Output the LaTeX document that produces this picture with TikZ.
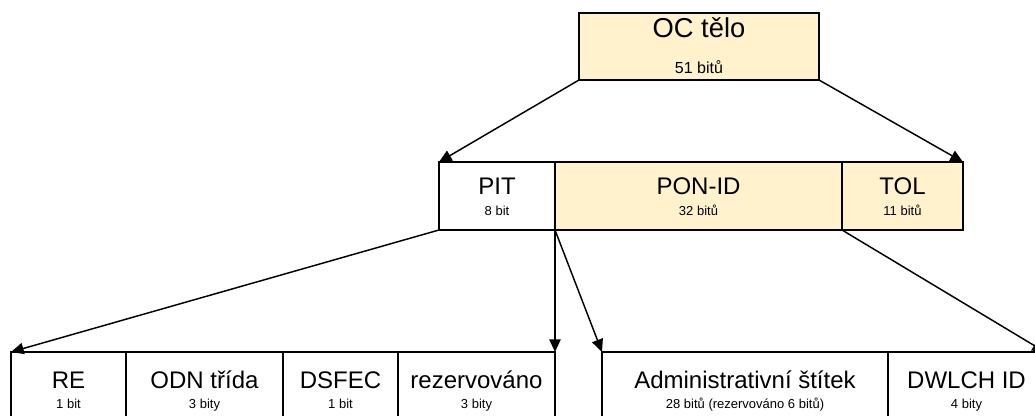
\documentclass[tikz,border=0pt]{standalone}
\usepackage{fontspec}
\setmainfont{Liberation Sans}
\usetikzlibrary{arrows.meta}
\definecolor{fieldfill}{RGB}{255,242,204}
\tikzset{
  boxst/.style={draw=black, line width=1.3pt, inner sep=0pt, outer sep=0pt, anchor=north west},
  arr/.style={draw=black, line width=1.1pt, -{Triangle[length=9.5pt,width=8.5pt]}},
  bigtxt/.style={anchor=base, inner sep=0pt, font=\fontsize{18}{20}\selectfont},
  octxt/.style={anchor=base, inner sep=0pt, font=\fontsize{20.5}{23}\selectfont},
  smalltxt/.style={anchor=base, inner sep=0pt, font=\fontsize{9.75}{11}\selectfont},
  octsub/.style={anchor=base, inner sep=0pt, font=\fontsize{12}{14}\selectfont},
}
\newcommand\mkbox[6]{%
  \node[boxst, fill=#6, minimum width={(#4-#2)*0.75pt}, minimum height={(#5-#3)*0.75pt}] (#1) at (#2,#3) {};}
\begin{document}
\begin{tikzpicture}[x=0.75pt, y=-0.75pt]
\useasboundingbox (0,0) rectangle (1035,416);
\clip (0,0) rectangle (1035,416);
% top
\mkbox{oc}{579}{13}{819}{80}{fieldfill}
\node[octxt] (octitle) at (699,37.5) {OC tělo};
\node[octsub] (ocsub) at (699,74) {51 bitů};
% middle
\mkbox{pit}{439}{162}{555}{230}{white}
\mkbox{pon}{555}{162}{842}{230}{fieldfill}
\mkbox{tol}{842}{162}{963}{230}{fieldfill}
\node[bigtxt] (pitt) at (497,195) {PIT};
\node[smalltxt] (pits) at (497,216) {8 bit};
\node[bigtxt] (pont) at (698.5,195) {PON-ID};
\node[smalltxt] (pons) at (698.5,216) {32 bitů};
\node[bigtxt] (tolt) at (902.5,195) {TOL};
\node[smalltxt] (tols) at (902.5,216) {11 bitů};
% bottom
\mkbox{re}{11}{352}{126}{440}{white}
\mkbox{odn}{126}{352}{283}{440}{white}
\mkbox{dsf}{283}{352}{398}{440}{white}
\mkbox{rez}{398}{352}{555}{440}{white}
\mkbox{adm}{602}{352}{888}{440}{white}
\mkbox{dw}{888}{352}{1045}{440}{white}
\node[bigtxt] (ret) at (68.5,388) {RE};
\node[smalltxt] (res) at (68.5,408) {1 bit};
\node[bigtxt] (odnt) at (204.5,388) {ODN třída};
\node[smalltxt] (odns) at (204.5,408) {3 bity};
\node[bigtxt] (dsft) at (340.5,388) {DSFEC};
\node[smalltxt] (dsfs) at (340.5,408) {1 bit};
\node[bigtxt] (rezt) at (476.5,388) {rezervováno};
\node[smalltxt] (rezs) at (476.5,408) {3 bity};
\node[bigtxt] (admt) at (745,388) {Administrativní štítek};
\node[smalltxt] (adms) at (745,408) {28 bitů (rezervováno 6 bitů)};
\node[bigtxt] (dwt) at (966.5,388) {DWLCH ID};
\node[smalltxt] (dws) at (966.5,408) {4 bity};
% arrows
\draw[arr] (oc.south west) -- (pit.north west);
\draw[arr] (oc.south east) -- (tol.north east);
\draw[arr] (pit.south west) -- (re.north west);
\draw[arr] (pit.south east) -- (rez.north east);
\draw[arr] (pon.south west) -- (adm.north west);
\draw[arr] (pon.south east) -- (dw.north east);
\end{tikzpicture}
\end{document}
